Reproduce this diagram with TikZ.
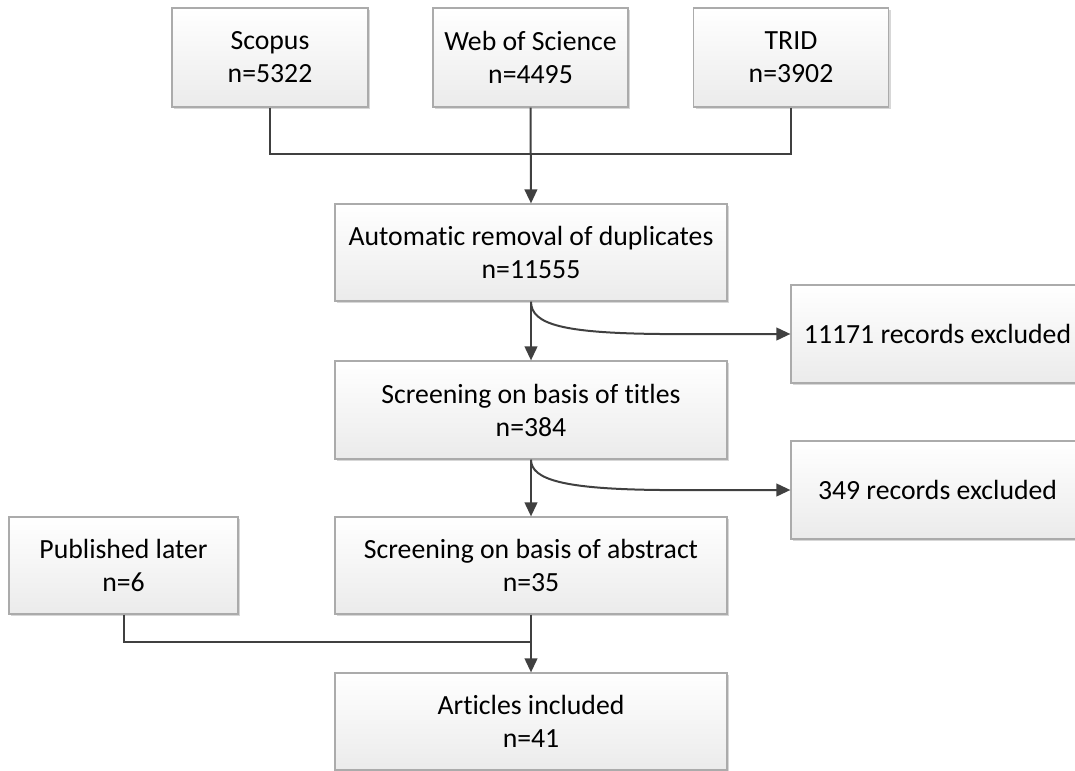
\documentclass[tikz,border=0pt]{standalone}
\usepackage{fontspec}
\setmainfont{Carlito}[Ligatures=NoCommon]
\usetikzlibrary{shadows,arrows.meta}
\definecolor{linec}{HTML}{404040}
\definecolor{boxline}{HTML}{ABABAB}
\definecolor{boxbot}{HTML}{EBEBEB}
\tikzset{
  box/.style={draw=boxline, line width=0.9pt, top color=white, bottom color=boxbot,
    align=center, inner sep=0pt, font=\fontsize{20.8}{24.75}\selectfont,
    drop shadow={shadow xshift=1.5pt, shadow yshift=-1.5pt, fill=black!35, opacity=0.45}},
  conn/.style={draw=linec, line width=1.5pt},
  arr/.style={conn, -{Triangle[length=10.5pt, width=9.5pt]}},
}
\begin{document}
\begin{tikzpicture}[x=0.75pt, y=-0.75pt]
\useasboundingbox (0,0) rectangle (1075,771);
\begin{scope}
\clip (0,0) rectangle (1075,771);
\node[box, minimum width=147pt, minimum height=74.25pt] (scopus) at (270,57.5) {Scopus\\n=5322};
\node[box, minimum width=146.25pt, minimum height=74.25pt] (wos) at (530.5,57.5) {Web of Science\\n=4495};
\node[box, minimum width=146.25pt, minimum height=74.25pt] (trid) at (791,57.5) {TRID\\n=3902};
\node[box, minimum width=294pt, minimum height=72.75pt] (auto) at (531,252.5) {Automatic removal of duplicates\\n=11555};
\node[box, minimum width=294pt, minimum height=73.5pt] (titles) at (531,410) {Screening on basis of titles\\n=384};
\node[box, minimum width=294pt, minimum height=72.75pt] (abstract) at (531,565.5) {Screening on basis of abstract\\n=35};
\node[box, minimum width=294pt, minimum height=72.75pt] (articles) at (531,721.5) {Articles included\\n=41};
\node[box, minimum width=171.75pt, minimum height=72.75pt] (pub) at (123.5,565.5) {Published later\\n=6};
\node[box, minimum width=219.75pt, minimum height=73.5pt] (ex1) at (937.5,334) {11171 records excluded};
\node[box, minimum width=219.75pt, minimum height=73.5pt] (ex2) at (937.5,490) {349 records excluded};
\coordinate (j1) at (531,154);
\coordinate (j2) at (531,642);
\draw[conn] (scopus.south) |- (j1);
\draw[conn] (trid.south) |- (j1);
\draw[arr] (wos.south) -- (auto.north);
\draw[arr] (auto.south) -- (titles.north);
\draw[arr] (auto.south) .. controls (531,325) and (565,333) .. (660,334) -- (ex1.west);
\draw[arr] (titles.south) .. controls (531,480) and (565,489) .. (660,490) -- (ex2.west);
\draw[arr] (titles.south) -- (abstract.north);
\draw[conn] (pub.south) |- (j2);
\draw[arr] (abstract.south) -- (articles.north);
\end{scope}
\end{tikzpicture}
\end{document}
